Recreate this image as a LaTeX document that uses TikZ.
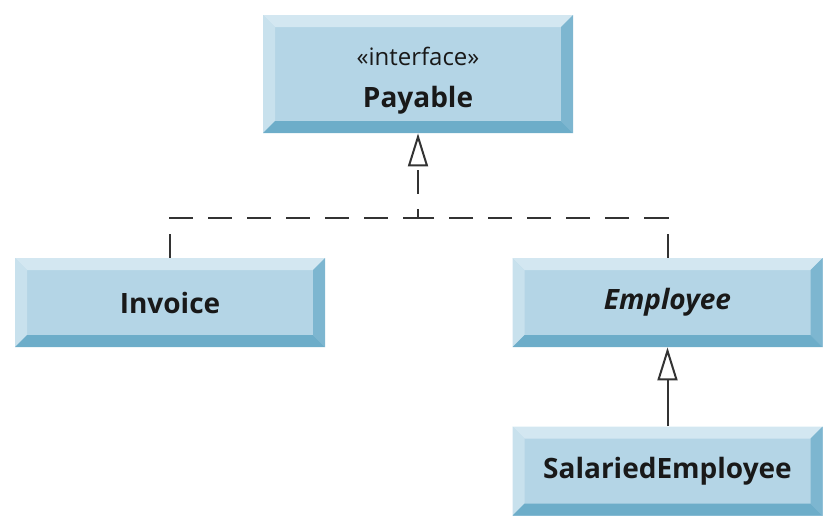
\documentclass[tikz,border=0pt]{standalone}
\usepackage{fontspec}
\setmainfont{Open Sans}
\usetikzlibrary{arrows.meta}
\definecolor{boxface}{HTML}{B4D5E6}
\definecolor{boxtop}{HTML}{D3E7F1}
\definecolor{boxleft}{HTML}{C8E1ED}
\definecolor{boxright}{HTML}{7DB6D0}
\definecolor{boxbottom}{HTML}{6DADC9}
\begin{document}
\begin{tikzpicture}[x=0.5pt,y=-0.5pt,
    classbox/.style={rectangle, fill=boxface, inner sep=0pt, minimum width=155pt,
      minimum height=44.5pt, align=center, text=black!90, font=\fontsize{14}{17}\selectfont,
      path picture={
        \fill[boxtop] (path picture bounding box.north west) -- (path picture bounding box.north east)
          -- ([shift={(-6pt,-6pt)}]path picture bounding box.north east) -- ([shift={(6pt,-6pt)}]path picture bounding box.north west) -- cycle;
        \fill[boxleft] (path picture bounding box.north west) -- ([shift={(6pt,-6pt)}]path picture bounding box.north west)
          -- ([shift={(6pt,6pt)}]path picture bounding box.south west) -- (path picture bounding box.south west) -- cycle;
        \fill[boxright] (path picture bounding box.north east) -- (path picture bounding box.south east)
          -- ([shift={(-6pt,6pt)}]path picture bounding box.south east) -- ([shift={(-6pt,-6pt)}]path picture bounding box.north east) -- cycle;
        \fill[boxbottom] (path picture bounding box.south west) -- (path picture bounding box.south east)
          -- ([shift={(-6pt,6pt)}]path picture bounding box.south east) -- ([shift={(6pt,6pt)}]path picture bounding box.south west) -- cycle;
      }},
    realize/.style={line width=1pt, draw=black!80, dash pattern=on 12pt off 7.5pt},
    inherit/.style={line width=1pt, draw=black!80},
    hollow/.style={-{Triangle[open, width=10pt, length=16.5pt, line width=1pt]}}]
   \useasboundingbox (0,0) rectangle (837,531);
   \node[classbox, minimum height=59pt, text height=37pt] (Payable) at (418,74)
     {{\fontsize{12}{15}\selectfont «interface»}\\[4pt]\textbf{Payable}};
   \node[classbox] (Invoice) at (170,302.5) {\textbf{Invoice}};
   \node[classbox] (Employee) at (667.5,302.5) {\textbf{\textit{Employee}}};
   \node[classbox] (Salaried) at (667.5,471) {\textbf{SalariedEmployee}};
   \coordinate (bus) at (418,218);
   \draw[realize, hollow] (Invoice.north) |- (bus) -- (Payable.south);
   \draw[realize] (Employee.north) |- (bus);
   \draw[inherit, hollow] (Salaried.north) -- (Employee.south);
\end{tikzpicture}
\end{document}
